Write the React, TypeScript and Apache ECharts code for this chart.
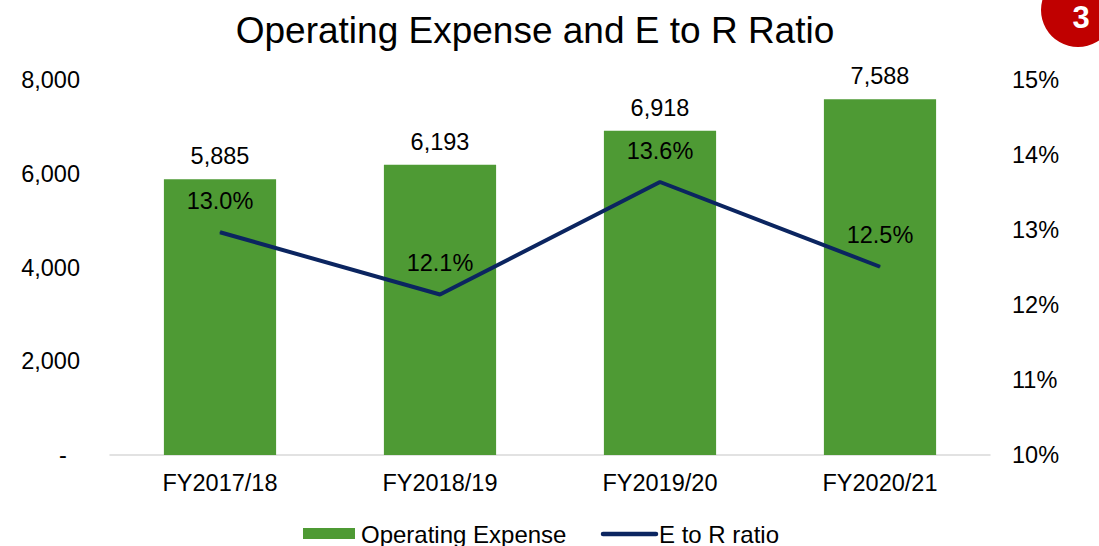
import React, { useEffect, useRef } from "react";
import * as echarts from "echarts";

const categories = ["FY2017/18", "FY2018/19", "FY2019/20", "FY2020/21"];
const opex = [5885, 6193, 6918, 7588];
const eToR = [12.97, 12.14, 13.64, 12.51];
const seriesNames = ["Operating Expense", "E to R ratio"];

const FONT = "Liberation Sans, Arial, sans-serif";
const GREEN = "#4E9A34";
const NAVY = "#0B2560";

export default function App() {
  const ref = useRef<HTMLDivElement>(null);
  useEffect(() => {
    if (!ref.current) return;
    const chart = echarts.init(ref.current, undefined, { renderer: "svg" });
    chart.setOption({
      animation: false,
      textStyle: { fontFamily: FONT },
      title: {
        text: "Operating Expense and E to R Ratio",
        left: 530,
        top: 7,
        textAlign: "center",
        textStyle: { fontFamily: FONT, fontSize: 37, fontWeight: "normal", color: "#000" },
      },
      graphic: [
        { type: "circle", shape: { cx: 1078, cy: 10, r: 37 }, style: { fill: "#C00000" } },
        {
          type: "text",
          x: 1081,
          y: 17,
          style: { text: "3", fill: "#fff", font: `bold 31px ${FONT}`, align: "center", verticalAlign: "middle" },
        },
        { type: "rect", shape: { x: 303, y: 528, width: 52, height: 11 }, style: { fill: GREEN } },
        {
          type: "text",
          x: 361,
          y: 534,
          style: { text: seriesNames[0], fill: "#000", font: `24px ${FONT}`, align: "left", verticalAlign: "middle" },
        },
        {
          type: "line",
          shape: { x1: 603, y1: 534, x2: 656, y2: 534 },
          style: { stroke: NAVY, lineWidth: 4.5, lineCap: "round" },
        },
        {
          type: "text",
          x: 659,
          y: 534,
          style: { text: seriesNames[1], fill: "#000", font: `24px ${FONT}`, align: "left", verticalAlign: "middle" },
        },
      ],
      legend: { show: false, data: seriesNames },
      grid: { left: 110, right: 109, top: 80, bottom: 91 },
      xAxis: {
        type: "category",
        data: categories,
        axisLine: { lineStyle: { color: "#d9d9d9", width: 1.5 } },
        axisTick: { show: false },
        axisLabel: { fontSize: 23.5, color: "#000", margin: 16, fontFamily: FONT },
      },
      yAxis: [
        {
          type: "value",
          min: 0,
          max: 8000,
          interval: 2000,
          splitLine: { show: false },
          axisLine: { show: false },
          axisTick: { show: false },
          axisLabel: {
            fontSize: 23.5,
            color: "#000",
            margin: 30,
            fontFamily: FONT,
            formatter: (v: number) => (v === 0 ? "-  " : v.toLocaleString("en-US")),
          },
        },
        {
          type: "value",
          min: 10,
          max: 15,
          interval: 1,
          splitLine: { show: false },
          axisLine: { show: false },
          axisTick: { show: false },
          axisLabel: {
            fontSize: 23.5,
            color: "#000",
            margin: 22,
            fontFamily: FONT,
            formatter: (v: number) => v + "%",
          },
        },
      ],
      series: [
        {
          name: seriesNames[0],
          type: "bar",
          data: opex,
          barWidth: "51%",
          itemStyle: { color: GREEN },
          label: {
            show: true,
            position: "top",
            distance: 11,
            fontSize: 23.5,
            color: "#000",
            fontFamily: FONT,
            formatter: (p: any) => p.value.toLocaleString("en-US"),
          },
        },
        {
          name: seriesNames[1],
          type: "line",
          yAxisIndex: 1,
          data: eToR,
          symbol: "circle",
          symbolSize: 1,
          showSymbol: true,
          lineStyle: { color: NAVY, width: 4 },
          itemStyle: { color: NAVY },
          label: {
            show: true,
            position: "top",
            distance: 19,
            fontSize: 23.5,
            color: "#000",
            fontFamily: FONT,
            formatter: (p: any) => p.value.toFixed(1) + "%",
          },
        },
      ],
    });
    return () => chart.dispose();
  }, []);
  return <div ref={ref} style={{ width: 1099, height: 546, position: "absolute", left: 0, top: 0 }} />;
}
